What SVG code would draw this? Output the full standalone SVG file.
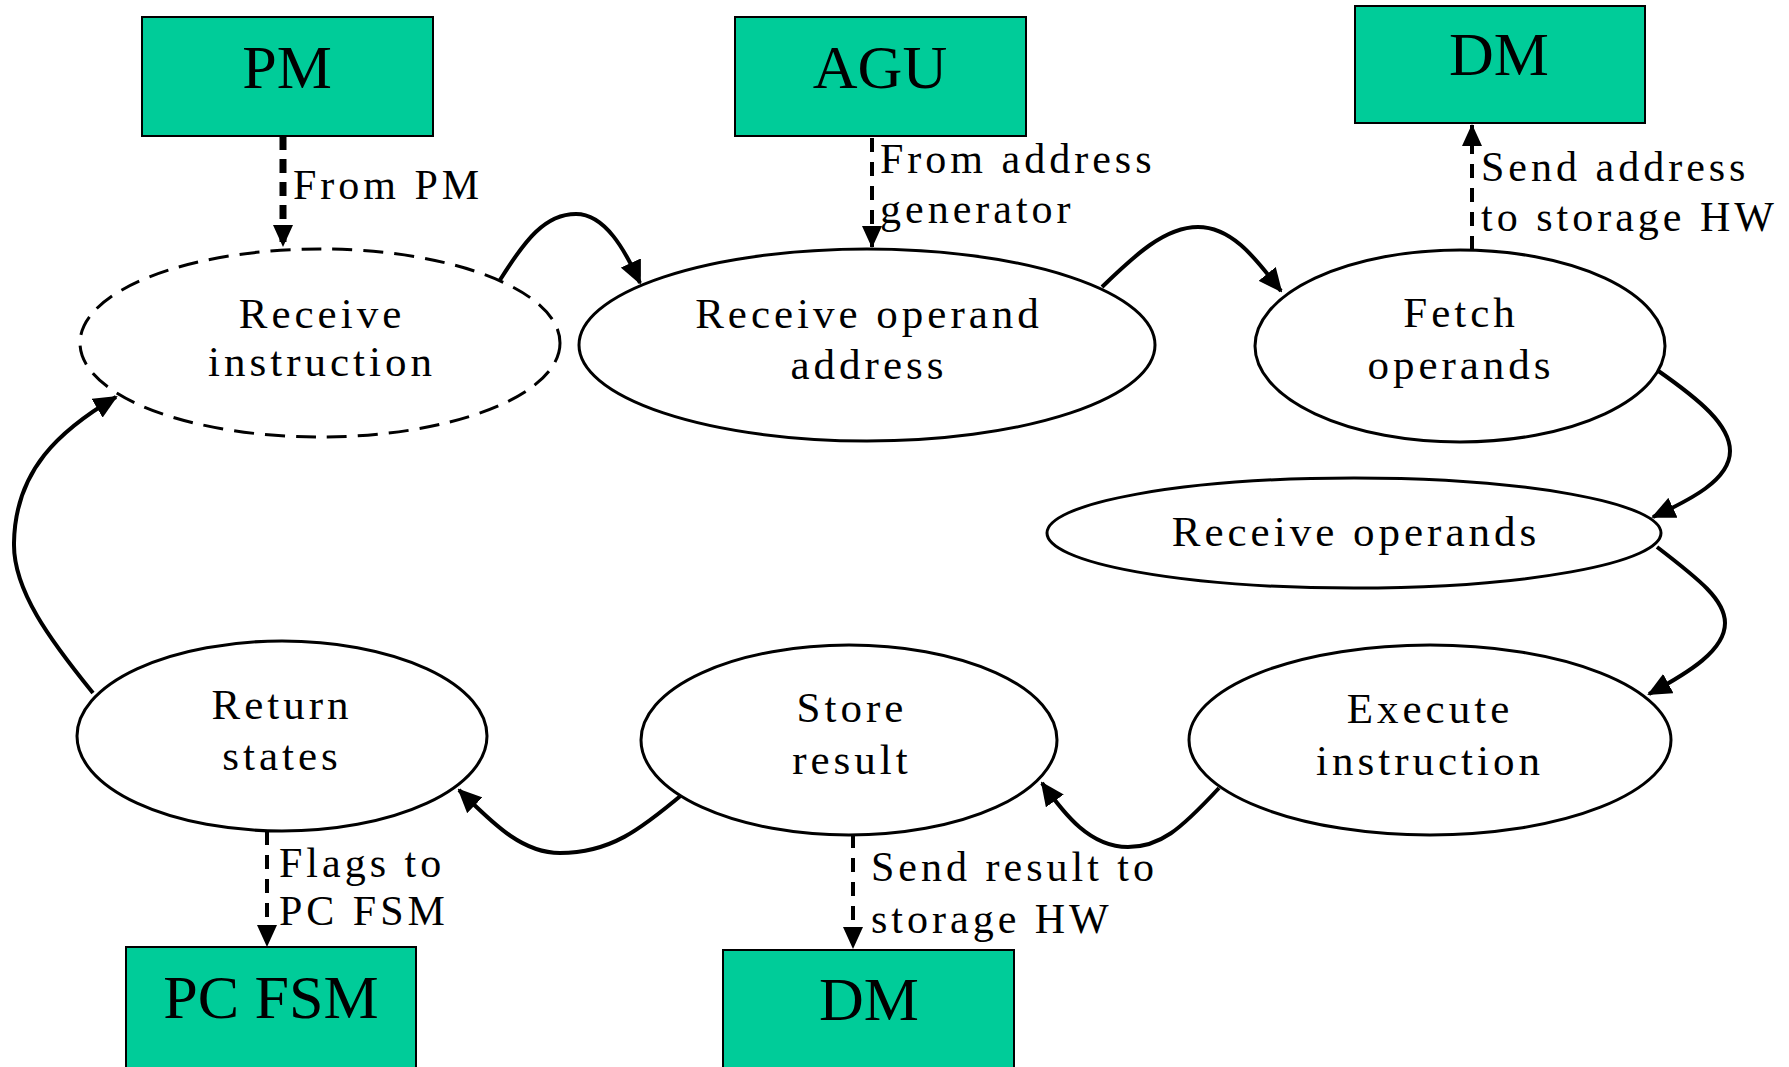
<svg xmlns="http://www.w3.org/2000/svg" width="1789" height="1067" viewBox="0 0 1789 1067">
<style>
.box{fill:#00CC99;stroke:#000;stroke-width:2}
.btxt{font-family:"Liberation Serif","Times New Roman",serif;font-size:62px;fill:#000;text-anchor:middle}
.st{fill:#fff;stroke:#000;stroke-width:3}
.dash{stroke-dasharray:20 11}
.stxt{font-family:"Liberation Serif","Times New Roman",serif;font-size:43px;letter-spacing:4px;fill:#000;text-anchor:middle}
.ltxt{font-family:"Liberation Serif","Times New Roman",serif;font-size:42px;letter-spacing:4px;fill:#000}
.flow{fill:none;stroke:#000;stroke-width:4}
.io{fill:none;stroke:#000;stroke-width:4;stroke-dasharray:14 10}
</style>
<defs>
<marker id="ah" markerUnits="userSpaceOnUse" markerWidth="24" markerHeight="22" viewBox="0 0 24 22" refX="22" refY="11" orient="auto">
<path d="M0,0 L24,11 L0,22 z" fill="#000"/>
</marker>
<marker id="ahs" markerUnits="userSpaceOnUse" markerWidth="22" markerHeight="20" viewBox="0 0 22 20" refX="21" refY="10" orient="auto">
<path d="M0,0 L22,10 L0,20 z" fill="#000"/>
</marker>
</defs>

<g id="connectors">
<path class="flow" d="M500 280 C525 240 545 214 576 214 C605 214 625 250 640 283" marker-end="url(#ah)"/>
<path class="flow" d="M1102 287 C1135 255 1165 227 1198 227 C1235 227 1260 265 1281 291" marker-end="url(#ah)"/>
<path class="flow" d="M1657 370 C1700 400 1730 425 1730 451 C1730 480 1690 500 1653 517" marker-end="url(#ah)"/>
<path class="flow" d="M1657 547 C1700 580 1725 600 1725 623 C1725 650 1690 672 1649 694" marker-end="url(#ah)"/>
<path class="flow" d="M1219 788 C1180 830 1160 847 1128 847 C1090 847 1065 815 1042 783" marker-end="url(#ah)"/>
<path class="flow" d="M684 793 C640 830 610 853 560 853 C520 853 490 820 459 790" marker-end="url(#ah)"/>
<path class="flow" d="M93 693 C50 640 13 590 14 543 C15 470 60 430 116 397" marker-end="url(#ah)"/>
<path d="M283 136 L283 246" fill="none" stroke="#000" stroke-width="7" stroke-dasharray="14 9" marker-end="url(#ahs)"/>
<path class="io" d="M872 138 L872 247" marker-end="url(#ahs)"/>
<path class="io" d="M1472 250 L1472 125" marker-end="url(#ahs)"/>
<path class="io" d="M267 831 L267 946" marker-end="url(#ahs)"/>
<path class="io" d="M853 834 L853 948" marker-end="url(#ahs)"/>
<text class="ltxt" x="293" y="199">From PM</text>
<text class="ltxt" x="880" y="173">From address</text>
<text class="ltxt" x="880" y="223">generator</text>
<text class="ltxt" x="1481" y="181">Send address</text>
<text class="ltxt" x="1481" y="231">to storage HW</text>
<text class="ltxt" x="279" y="877">Flags to</text>
<text class="ltxt" x="279" y="925">PC FSM</text>
<text class="ltxt" x="871" y="881">Send result to</text>
<text class="ltxt" x="871" y="933">storage HW</text>
</g>

<g id="pm">
<rect class="box" x="142" y="17" width="291" height="119"/>
<text class="btxt" x="287" y="88">PM</text>
</g>
<g id="agu">
<rect class="box" x="735" y="17" width="291" height="119"/>
<text class="btxt" x="880" y="88">AGU</text>
</g>
<g id="dm-top">
<rect class="box" x="1355" y="6" width="290" height="117"/>
<text class="btxt" x="1499" y="75">DM</text>
</g>
<g id="pc-fsm">
<rect class="box" x="126" y="947" width="290" height="125"/>
<text class="btxt" x="271" y="1018">PC FSM</text>
</g>
<g id="dm-bottom">
<rect class="box" x="723" y="950" width="291" height="122"/>
<text class="btxt" x="869" y="1020">DM</text>
</g>

<g id="receive-instruction">
<ellipse class="st dash" cx="320" cy="343" rx="240" ry="94"/>
<text class="stxt" x="322" y="328">Receive</text>
<text class="stxt" x="322" y="376">instruction</text>
</g>
<g id="receive-operand-address">
<ellipse class="st" cx="867" cy="345" rx="288" ry="96"/>
<text class="stxt" x="869" y="328">Receive operand</text>
<text class="stxt" x="869" y="379">address</text>
</g>
<g id="fetch-operands">
<ellipse class="st" cx="1460" cy="346" rx="205" ry="96"/>
<text class="stxt" x="1461" y="327">Fetch</text>
<text class="stxt" x="1461" y="379">operands</text>
</g>
<g id="receive-operands">
<ellipse class="st" cx="1354" cy="533" rx="307" ry="55"/>
<text class="stxt" x="1356" y="546">Receive operands</text>
</g>
<g id="execute-instruction">
<ellipse class="st" cx="1430" cy="740" rx="241" ry="95"/>
<text class="stxt" x="1430" y="723">Execute</text>
<text class="stxt" x="1430" y="775">instruction</text>
</g>
<g id="store-result">
<ellipse class="st" cx="849" cy="740" rx="208" ry="95"/>
<text class="stxt" x="852" y="722">Store</text>
<text class="stxt" x="852" y="774">result</text>
</g>
<g id="return-states">
<ellipse class="st" cx="282" cy="736" rx="205" ry="95"/>
<text class="stxt" x="282" y="719">Return</text>
<text class="stxt" x="282" y="770">states</text>
</g>
</svg>
